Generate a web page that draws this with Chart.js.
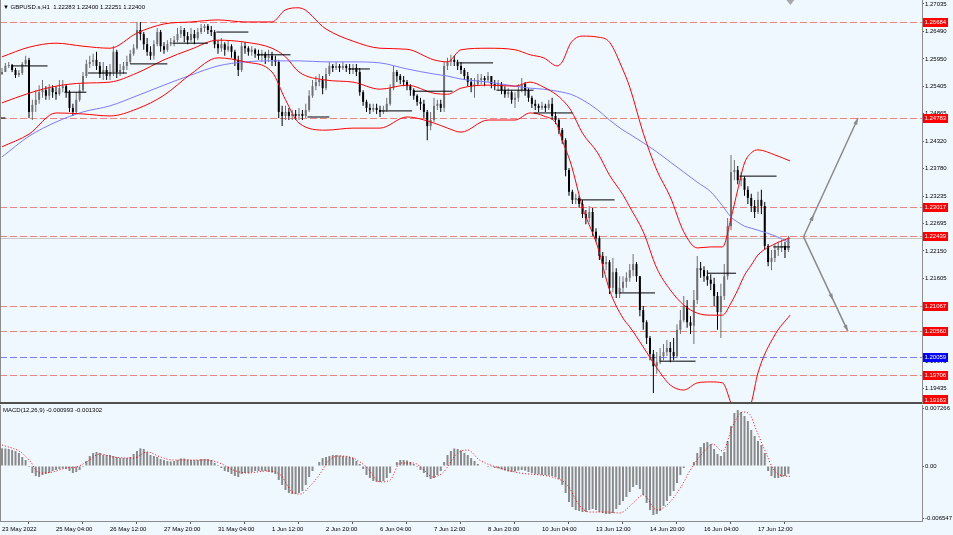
<!DOCTYPE html>
<html lang="en">
<head>
  <meta charset="UTF-8">
  <title>GBPUSD H1</title>
  <script src="https://cdn.jsdelivr.net/npm/chart.js"></script>
  <style>
    html, body { margin: 0; padding: 0; background: #f0f8ff; }
    #wrap { position: relative; width: 953px; height: 535px; overflow: hidden; background: #f0f8ff; }
    #mainChart { position: absolute; left: 0; top: 0; }
    #macdChart { position: absolute; left: 0; top: 405px; }
  </style>
</head>
<body>
  <div id="wrap">
    <canvas id="mainChart" width="953" height="404"></canvas>
    <canvas id="macdChart" width="953" height="130"></canvas>
  </div>

  <script>
    // 2-hour candles
    const opens = [1.2565,1.2569,1.2581,1.2583,1.2573,1.2563,1.2567,1.2585,1.2593,1.2490,
      1.2504,1.2514,1.2529,1.2533,1.2522,1.2537,1.2529,1.2525,1.2537,1.2541,
      1.2529,1.2498,1.2490,1.2514,1.2533,1.2561,1.2585,1.2589,1.2593,1.2581,
      1.2565,1.2573,1.2561,1.2569,1.2609,1.2569,1.2573,1.2581,1.2589,1.2605,
      1.2616,1.2652,1.2644,1.2624,1.2609,1.2601,1.2624,1.2648,1.2620,1.2613,
      1.2624,1.2628,1.2632,1.2644,1.2652,1.2640,1.2632,1.2644,1.2636,1.2648,
      1.2656,1.2660,1.2652,1.2648,1.2624,1.2616,1.2624,1.2613,1.2620,1.2609,
      1.2593,1.2573,1.2620,1.2616,1.2609,1.2613,1.2605,1.2601,1.2605,1.2597,
      1.2601,1.2593,1.2589,1.2490,1.2482,1.2490,1.2482,1.2486,1.2482,1.2486,
      1.2482,1.2494,1.2522,1.2541,1.2549,1.2553,1.2537,1.2565,1.2581,1.2577,
      1.2581,1.2577,1.2581,1.2577,1.2573,1.2577,1.2569,1.2529,1.2510,1.2498,
      1.2494,1.2498,1.2494,1.2490,1.2494,1.2506,1.2537,1.2569,1.2561,1.2553,
      1.2549,1.2541,1.2533,1.2522,1.2510,1.2506,1.2490,1.2462,1.2474,1.2502,
      1.2506,1.2498,1.2581,1.2589,1.2593,1.2589,1.2581,1.2573,1.2561,1.2549,
      1.2541,1.2545,1.2553,1.2557,1.2553,1.2561,1.2545,1.2541,1.2545,1.2533,
      1.2525,1.2529,1.2514,1.2518,1.2533,1.2545,1.2533,1.2518,1.2506,1.2502,
      1.2498,1.2502,1.2498,1.2506,1.2482,1.2474,1.2454,1.2434,1.2375,1.2332,
      1.2316,1.2320,1.2308,1.2288,1.2280,1.2292,1.2253,1.2240,1.2205,1.2189,
      1.2193,1.2142,1.2173,1.2130,1.2142,1.2154,1.2162,1.2177,1.2189,1.2165,
      1.2098,1.2074,1.2043,1.2011,1.1987,1.1995,1.2007,1.2015,1.2023,1.2015,
      1.2007,1.2059,1.2078,1.2106,1.2074,1.2067,1.2118,1.2181,1.2177,1.2165,
      1.2158,1.2150,1.2126,1.2094,1.2126,1.2165,1.2264,1.2371,1.2375,1.2355,
      1.2359,1.2336,1.2320,1.2304,1.2292,1.2316,1.2304,1.2225,1.2193,1.2201,
      1.2217,1.2221,1.2225,1.2217];
    const highs = [1.2577,1.2587,1.2589,1.2585,1.2577,1.2573,1.2589,1.2601,1.2597,1.2514,
      1.2533,1.2543,1.2553,1.2541,1.2545,1.2543,1.2541,1.2553,1.2553,1.2545,
      1.2533,1.2506,1.2529,1.2545,1.2569,1.2593,1.2601,1.2605,1.2609,1.2589,
      1.2589,1.2581,1.2585,1.2620,1.2613,1.2585,1.2589,1.2601,1.2613,1.2624,
      1.2668,1.2668,1.2648,1.2636,1.2620,1.2632,1.2656,1.2652,1.2628,1.2632,
      1.2636,1.2640,1.2656,1.2660,1.2656,1.2648,1.2656,1.2652,1.2656,1.2664,
      1.2664,1.2664,1.2660,1.2652,1.2632,1.2636,1.2628,1.2632,1.2624,1.2613,
      1.2601,1.2628,1.2628,1.2620,1.2620,1.2616,1.2613,1.2613,1.2609,1.2613,
      1.2609,1.2601,1.2593,1.2502,1.2502,1.2498,1.2494,1.2494,1.2498,1.2494,
      1.2506,1.2533,1.2553,1.2561,1.2565,1.2561,1.2577,1.2589,1.2585,1.2589,
      1.2585,1.2589,1.2585,1.2585,1.2585,1.2585,1.2577,1.2533,1.2514,1.2506,
      1.2506,1.2506,1.2502,1.2502,1.2518,1.2545,1.2581,1.2573,1.2565,1.2561,
      1.2553,1.2545,1.2537,1.2525,1.2518,1.2514,1.2494,1.2490,1.2518,1.2514,
      1.2514,1.2589,1.2597,1.2603,1.2601,1.2593,1.2589,1.2577,1.2569,1.2557,
      1.2557,1.2565,1.2565,1.2561,1.2569,1.2561,1.2553,1.2553,1.2549,1.2541,
      1.2537,1.2533,1.2529,1.2545,1.2557,1.2549,1.2537,1.2522,1.2514,1.2506,
      1.2510,1.2506,1.2514,1.2518,1.2490,1.2478,1.2458,1.2438,1.2379,1.2336,
      1.2328,1.2324,1.2316,1.2296,1.2304,1.2300,1.2260,1.2245,1.2213,1.2205,
      1.2197,1.2201,1.2181,1.2165,1.2165,1.2173,1.2189,1.2209,1.2193,1.2165,
      1.2106,1.2078,1.2047,1.2019,1.2015,1.2023,1.2031,1.2039,1.2035,1.2043,
      1.2070,1.2098,1.2126,1.2118,1.2086,1.2138,1.2205,1.2193,1.2185,1.2177,
      1.2169,1.2162,1.2134,1.2150,1.2189,1.2280,1.2405,1.2395,1.2383,1.2371,
      1.2363,1.2343,1.2328,1.2316,1.2332,1.2336,1.2312,1.2229,1.2217,1.2229,
      1.2233,1.2237,1.2233,1.2245];
    const lows = [1.2563,1.2569,1.2577,1.2569,1.2557,1.2559,1.2563,1.2581,1.2478,1.2474,
      1.2490,1.2506,1.2518,1.2514,1.2514,1.2518,1.2514,1.2522,1.2529,1.2518,
      1.2490,1.2482,1.2486,1.2510,1.2529,1.2557,1.2577,1.2581,1.2573,1.2557,
      1.2553,1.2553,1.2553,1.2561,1.2557,1.2561,1.2565,1.2573,1.2585,1.2601,
      1.2613,1.2632,1.2613,1.2601,1.2593,1.2593,1.2620,1.2609,1.2605,1.2609,
      1.2620,1.2620,1.2628,1.2636,1.2628,1.2624,1.2628,1.2624,1.2632,1.2644,
      1.2648,1.2644,1.2640,1.2616,1.2605,1.2609,1.2601,1.2609,1.2597,1.2581,
      1.2561,1.2569,1.2605,1.2601,1.2601,1.2597,1.2593,1.2589,1.2585,1.2589,
      1.2581,1.2581,1.2478,1.2462,1.2474,1.2474,1.2474,1.2474,1.2474,1.2474,
      1.2478,1.2490,1.2518,1.2533,1.2541,1.2525,1.2533,1.2561,1.2569,1.2573,
      1.2569,1.2573,1.2569,1.2565,1.2565,1.2561,1.2522,1.2502,1.2490,1.2486,
      1.2490,1.2486,1.2480,1.2486,1.2490,1.2502,1.2533,1.2549,1.2545,1.2541,
      1.2533,1.2522,1.2514,1.2502,1.2494,1.2478,1.2434,1.2454,1.2470,1.2494,
      1.2490,1.2490,1.2573,1.2581,1.2581,1.2573,1.2565,1.2553,1.2541,1.2529,
      1.2518,1.2541,1.2545,1.2541,1.2549,1.2537,1.2533,1.2533,1.2525,1.2518,
      1.2518,1.2506,1.2498,1.2510,1.2529,1.2522,1.2510,1.2498,1.2494,1.2490,
      1.2494,1.2490,1.2494,1.2474,1.2466,1.2446,1.2427,1.2363,1.2324,1.2308,
      1.2308,1.2300,1.2280,1.2268,1.2272,1.2245,1.2233,1.2197,1.2162,1.2177,
      1.2130,1.2134,1.2122,1.2122,1.2134,1.2142,1.2154,1.2165,1.2154,1.2086,
      1.2059,1.2031,1.1999,1.1934,1.1972,1.1991,1.1999,1.2007,1.1995,1.1999,
      1.2003,1.2051,1.2074,1.2063,1.2051,1.2031,1.2110,1.2162,1.2154,1.2146,
      1.2138,1.2106,1.2059,1.2043,1.2118,1.2158,1.2256,1.2355,1.2347,1.2343,
      1.2324,1.2308,1.2292,1.2280,1.2288,1.2288,1.2217,1.2185,1.2177,1.2193,
      1.2205,1.2213,1.2201,1.2213];
    const closes = [1.2569,1.2581,1.2583,1.2573,1.2563,1.2567,1.2585,1.2593,1.2490,1.2504,
      1.2514,1.2529,1.2533,1.2522,1.2537,1.2529,1.2525,1.2537,1.2541,1.2529,
      1.2498,1.2490,1.2514,1.2533,1.2561,1.2585,1.2589,1.2593,1.2581,1.2565,
      1.2573,1.2561,1.2569,1.2609,1.2569,1.2573,1.2581,1.2589,1.2605,1.2616,
      1.2652,1.2644,1.2624,1.2609,1.2601,1.2624,1.2648,1.2620,1.2613,1.2624,
      1.2628,1.2632,1.2644,1.2652,1.2640,1.2632,1.2644,1.2636,1.2648,1.2656,
      1.2660,1.2652,1.2648,1.2624,1.2616,1.2624,1.2613,1.2620,1.2609,1.2593,
      1.2573,1.2620,1.2616,1.2609,1.2613,1.2605,1.2601,1.2605,1.2597,1.2601,
      1.2593,1.2589,1.2490,1.2482,1.2490,1.2482,1.2486,1.2482,1.2486,1.2482,
      1.2494,1.2522,1.2541,1.2549,1.2553,1.2537,1.2565,1.2581,1.2577,1.2581,
      1.2577,1.2581,1.2577,1.2573,1.2577,1.2569,1.2529,1.2510,1.2498,1.2494,
      1.2498,1.2494,1.2490,1.2494,1.2506,1.2537,1.2569,1.2561,1.2553,1.2549,
      1.2541,1.2533,1.2522,1.2510,1.2506,1.2490,1.2462,1.2474,1.2502,1.2506,
      1.2498,1.2581,1.2589,1.2593,1.2589,1.2581,1.2573,1.2561,1.2549,1.2541,
      1.2545,1.2553,1.2557,1.2553,1.2561,1.2545,1.2541,1.2545,1.2533,1.2525,
      1.2529,1.2514,1.2518,1.2533,1.2545,1.2533,1.2518,1.2506,1.2502,1.2498,
      1.2502,1.2498,1.2506,1.2482,1.2474,1.2454,1.2434,1.2375,1.2332,1.2316,
      1.2320,1.2308,1.2288,1.2280,1.2292,1.2253,1.2240,1.2205,1.2189,1.2193,
      1.2142,1.2173,1.2130,1.2142,1.2154,1.2162,1.2177,1.2189,1.2165,1.2098,
      1.2074,1.2043,1.2011,1.1987,1.1995,1.2007,1.2015,1.2023,1.2015,1.2007,
      1.2059,1.2078,1.2106,1.2074,1.2067,1.2118,1.2181,1.2177,1.2165,1.2158,
      1.2150,1.2126,1.2094,1.2126,1.2165,1.2264,1.2371,1.2375,1.2355,1.2359,
      1.2336,1.2320,1.2304,1.2292,1.2316,1.2304,1.2225,1.2193,1.2201,1.2217,
      1.2221,1.2225,1.2217,1.2240];

    // MACD main (histogram), one value per candle
    const macdMain = [0.00222,0.00220,0.00214,0.00201,0.00188,0.00163,0.00113,0.00075,-0.00013,-0.00088,
      -0.00126,-0.00138,-0.00113,-0.00100,-0.00088,-0.00063,-0.00050,-0.00038,-0.00031,-0.00038,
      -0.00063,-0.00088,-0.00075,-0.00050,-0.00013,0.00063,0.00126,0.00163,0.00176,0.00163,
      0.00138,0.00138,0.00138,0.00126,0.00113,0.00100,0.00100,0.00100,0.00113,0.00151,
      0.00188,0.00222,0.00214,0.00176,0.00138,0.00126,0.00113,0.00088,0.00075,0.00063,
      0.00057,0.00063,0.00075,0.00094,0.00094,0.00082,0.00075,0.00075,0.00075,0.00088,
      0.00088,0.00088,0.00075,0.00038,0.00013,-0.00025,-0.00063,-0.00075,-0.00100,-0.00126,
      -0.00138,-0.00100,-0.00088,-0.00088,-0.00075,-0.00063,-0.00063,-0.00063,-0.00063,-0.00075,
      -0.00082,-0.00100,-0.00176,-0.00239,-0.00301,-0.00339,-0.00352,-0.00352,-0.00339,-0.00314,
      -0.00239,-0.00138,-0.00063,0.00000,0.00050,0.00100,0.00113,0.00126,0.00138,0.00138,
      0.00132,0.00126,0.00119,0.00113,0.00100,0.00063,0.00025,-0.00038,-0.00113,-0.00151,
      -0.00188,-0.00201,-0.00201,-0.00188,-0.00151,-0.00088,0.00000,0.00050,0.00075,0.00075,
      0.00069,0.00050,0.00025,-0.00013,-0.00050,-0.00088,-0.00138,-0.00163,-0.00151,-0.00113,
      -0.00063,0.00050,0.00138,0.00188,0.00220,0.00214,0.00195,0.00163,0.00138,0.00100,
      0.00063,0.00025,0.00000,-0.00006,-0.00013,-0.00013,-0.00025,-0.00031,-0.00044,-0.00057,
      -0.00069,-0.00075,-0.00069,-0.00057,-0.00050,-0.00057,-0.00075,-0.00088,-0.00100,-0.00107,
      -0.00113,-0.00113,-0.00119,-0.00126,-0.00138,-0.00163,-0.00239,-0.00339,-0.00452,-0.00515,
      -0.00553,-0.00565,-0.00578,-0.00578,-0.00553,-0.00540,-0.00553,-0.00578,-0.00590,-0.00603,
      -0.00603,-0.00590,-0.00540,-0.00490,-0.00440,-0.00389,-0.00327,-0.00264,-0.00239,-0.00289,
      -0.00364,-0.00465,-0.00553,-0.00615,-0.00603,-0.00565,-0.00502,-0.00440,-0.00377,-0.00314,
      -0.00214,-0.00113,-0.00025,0.00000,0.00006,0.00050,0.00163,0.00239,0.00289,0.00301,
      0.00276,0.00214,0.00151,0.00126,0.00176,0.00314,0.00502,0.00666,0.00703,0.00678,
      0.00628,0.00565,0.00452,0.00377,0.00314,0.00264,0.00163,-0.00063,-0.00126,-0.00151,
      -0.00151,-0.00138,-0.00126,-0.00099];

    // MACD signal line (red dotted), sampled
    const signalHours = [0,11,17,22,30,38,44,50,58,66,78,86,94,101,110,121,129,137,145,157,
      165,172,177,182,188,194,200,208,216,224,230,236,244,250,255,261,270,276,283,295,
      307,319,326,335,342,348,358,366,374,380,388,394,402,409,418,421,427,433,439,443,
      447,453,457,461,467];
    const macdSignal = [0.00264,0.00176,0.00050,-0.00088,-0.00075,-0.00025,-0.00013,0.00050,0.00151,0.00113,
      0.00100,0.00176,0.00113,0.00075,0.00075,0.00075,0.00038,-0.00050,-0.00088,-0.00063,
      -0.00113,-0.00327,-0.00352,-0.00264,-0.00113,0.00075,0.00126,0.00100,-0.00013,-0.00201,
      -0.00176,0.00038,0.00038,-0.00050,-0.00138,-0.00088,0.00163,0.00201,0.00075,-0.00025,
      -0.00088,-0.00113,-0.00138,-0.00239,-0.00490,-0.00578,-0.00578,-0.00590,-0.00465,-0.00364,
      -0.00553,-0.00490,-0.00276,-0.00013,0.00226,0.00276,0.00188,0.00502,0.00678,0.00653,
      0.00452,0.00151,-0.00038,-0.00113,-0.00130];

    // Bollinger bands and moving average, sampled along the curve
    const bandHours = [0,16,32,48,64,80,96,112,128,144,160,168,176,192,208,224,240,256,264,272,
      288,304,313,321,329,332,337,344,353,360,368,372,380,388,396,404,412,420,427,432,
      436,440,444,448,458,467];
    const upperBand = [1.2599,1.2618,1.2626,1.2620,1.2616,1.2646,1.2664,1.2668,1.2672,1.2668,
      1.2668,1.2692,1.2696,1.2654,1.2630,1.2616,1.2614,1.2593,1.2589,1.2613,
      1.2616,1.2613,1.2603,1.2597,1.2581,1.2589,1.2626,1.2640,1.2638,1.2628,
      1.2573,1.2539,1.2448,1.2375,1.2322,1.2253,1.2221,1.2223,1.2223,1.2280,
      1.2336,1.2389,1.2409,1.2415,1.2405,1.2393];
    const middleBand = [1.2508,1.2527,1.2541,1.2547,1.2549,1.2567,1.2593,1.2614,1.2632,1.2628,
      1.2616,1.2599,1.2569,1.2553,1.2549,1.2535,1.2543,1.2527,1.2525,1.2537,
      1.2543,1.2541,1.2549,1.2539,1.2523,1.2514,1.2494,1.2448,1.2409,1.2365,
      1.2326,1.2302,1.2253,1.2181,1.2138,1.2108,1.2092,1.2088,1.2088,1.2112,
      1.2138,1.2167,1.2187,1.2207,1.2229,1.2241];
    const lowerBand = [1.2421,1.2446,1.2488,1.2486,1.2482,1.2496,1.2523,1.2565,1.2597,1.2589,
      1.2569,1.2514,1.2468,1.2454,1.2458,1.2458,1.2480,1.2468,1.2458,1.2450,
      1.2474,1.2474,1.2488,1.2482,1.2464,1.2434,1.2389,1.2302,1.2223,1.2138,
      1.2082,1.2065,1.2025,1.1984,1.1950,1.1940,1.1954,1.1956,1.1954,1.1914,
      1.1881,1.1881,1.1914,1.1974,1.2049,1.2088];
    const maLine = [1.2401,1.2442,1.2470,1.2490,1.2502,1.2522,1.2543,1.2563,1.2581,1.2589,
      1.2591,1.2591,1.2591,1.2589,1.2589,1.2587,1.2575,1.2565,1.2561,1.2555,
      1.2549,1.2541,1.2537,1.2535,1.2531,1.2529,1.2525,1.2514,1.2494,1.2474,
      1.2454,1.2446,1.2429,1.2411,1.2391,1.2371,1.2351,1.2332,1.2304,1.2282,
      1.2272,1.2264,1.2260,1.2256,1.2245,1.2231];

    // short black horizontal segments
    const segStart = [-1,6,37,51,76,101,127,151,181,206,224,244,271,293,315,341,366,390,418,437,457];
    const segEnd   = [2,27,50,74,98,122,146,171,194,218,243,267,291,315,338,363,387,411,435,459,467];
    const segLevel = [1.2478,1.2581,1.2529,1.2567,1.2585,1.2626,1.2648,1.2603,1.2480,1.2575,1.2492,
      1.2531,1.2587,1.2533,1.2488,1.2316,1.2132,1.1997,1.2171,1.2363,1.2223];

    // horizontal levels with their axis tags
    const levels = [1.26684,1.24783,1.23017,1.22439,1.21067,1.20560,1.20059,1.19706,1.19163];
    const levelKinds = ['red','red','red','red','red','red','blue','red','red'];
    const bidPrice = 1.22400;

    // two drawn arrows from the same start
    const arrowBase = [475, 1.2243];
    const arrowTips = [[507.3, 1.2478], [501.3, 1.2056]];
    const arrowMarks = [0.19, 0.67];

    const priceTicks = [1.27035,1.26490,1.25950,1.25405,1.24865,1.24320,1.23780,1.23235,
      1.22695,1.22150,1.21605,1.21060,1.20520,1.19975,1.19435];
    const priceTickLabels = ['1.27035','1.26490','1.25950','1.25405','1.24865','1.24320','1.23780','1.23235',
      '1.22695','1.22150','1.21605','1.21060','1.20520','1.19975','1.19435'];
    const macdTicks = [0.007266, 0, -0.006547];
    const macdTickLabels = ['0.007266', '0.00', '-0.006547'];
    const timeLabelHours = [0,32,64,96,128,160,192,224,256,288,320,352,384,416,448];
    const timeLabels = ['23 May 2022','25 May 04:00','26 May 12:00','27 May 20:00','31 May 04:00',
      '1 Jun 12:00','2 Jun 20:00','6 Jun 04:00','7 Jun 12:00','8 Jun 20:00','10 Jun 04:00',
      '13 Jun 12:00','14 Jun 20:00','16 Jun 04:00','17 Jun 12:00'];

    const barHours = closes.map((_, i) => i * 2);
    const X_MIN = -1.185, X_MAX = 545.19;
    const FONT = "'Liberation Sans', Arial, sans-serif";
    const FS = 6;
    Chart.defaults.font.family = FONT;

    const candleColor = c => closes[c.dataIndex] >= opens[c.dataIndex] ? '#707070' : '#000000';
    const fixRightAxis = s => { s.width = 31; s.paddingTop = 0; s.paddingBottom = 0; };

    function pts(xs, ys) {
      return xs.map((x, i) => ({ x: x, y: ys[i] }));
    }

    function segmentPoints() {
      const out = [];
      segStart.forEach((s, i) => {
        out.push({ x: s, y: segLevel[i] }, { x: segEnd[i], y: segLevel[i] }, { x: segEnd[i], y: null });
      });
      return out;
    }

    function drawHead(ctx, ang, px, py) {
      ctx.beginPath();
      ctx.moveTo(px, py);
      ctx.lineTo(px - 7 * Math.cos(ang - 0.3), py - 7 * Math.sin(ang - 0.3));
      ctx.lineTo(px - 7 * Math.cos(ang + 0.3), py - 7 * Math.sin(ang + 0.3));
      ctx.closePath();
      ctx.fill();
    }

    const mainDecor = {
      id: 'mainDecor',
      beforeDatasetsDraw(chart) {
        const { ctx, chartArea: a, scales: { y } } = chart;
        ctx.save();
        ctx.lineWidth = 1;
        const by = Math.round(y.getPixelForValue(bidPrice)) + 0.5;
        ctx.strokeStyle = '#c8c8c8';
        ctx.beginPath(); ctx.moveTo(a.left, by); ctx.lineTo(a.right, by); ctx.stroke();
        ctx.setLineDash([7, 3]);
        levels.forEach((lv, i) => {
          const py = Math.round(y.getPixelForValue(lv)) + 0.5;
          ctx.strokeStyle = levelKinds[i] === 'blue' ? '#7a7af2' : '#f08282';
          ctx.beginPath(); ctx.moveTo(a.left, py); ctx.lineTo(a.right, py); ctx.stroke();
        });
        ctx.restore();
      },
      afterDraw(chart) {
        const { ctx, chartArea: a, scales: { x, y } } = chart;
        ctx.save();
        // arrows
        ctx.strokeStyle = '#8a8a8a';
        ctx.fillStyle = '#8a8a8a';
        ctx.lineWidth = 1.5;
        const x0 = x.getPixelForValue(arrowBase[0]), y0 = y.getPixelForValue(arrowBase[1]);
        arrowTips.forEach((t, i) => {
          const x1 = x.getPixelForValue(t[0]), y1 = y.getPixelForValue(t[1]);
          ctx.beginPath(); ctx.moveTo(x0, y0); ctx.lineTo(x1, y1); ctx.stroke();
          const ang = Math.atan2(y1 - y0, x1 - x0);
          drawHead(ctx, ang, x1, y1);
          drawHead(ctx, ang, x0 + (x1 - x0) * arrowMarks[i], y0 + (y1 - y0) * arrowMarks[i]);
        });
        // shift marker at the top
        const sx = x.getPixelForValue(barHours[barHours.length - 1]) + 2;
        ctx.fillStyle = '#a8a8a8';
        ctx.beginPath(); ctx.moveTo(sx - 4, 0); ctx.lineTo(sx + 4, 0); ctx.lineTo(sx, 5); ctx.closePath(); ctx.fill();
        // frame
        ctx.lineWidth = 1;
        ctx.strokeStyle = '#8c8c8c';
        ctx.beginPath();
        ctx.moveTo(a.left + 0.5, a.top); ctx.lineTo(a.left + 0.5, a.bottom);
        ctx.moveTo(a.right + 0.5, a.top); ctx.lineTo(a.right + 0.5, a.bottom);
        ctx.stroke();
        ctx.strokeStyle = '#505050';
        ctx.lineWidth = 2;
        ctx.beginPath(); ctx.moveTo(a.left, a.bottom - 1); ctx.lineTo(a.right, a.bottom - 1); ctx.stroke();
        // level tags on the price axis
        ctx.font = FS + 'px ' + FONT;
        ctx.textBaseline = 'middle';
        ctx.textAlign = 'left';
        levels.forEach((lv, i) => {
          const py = Math.round(y.getPixelForValue(lv));
          ctx.fillStyle = levelKinds[i] === 'blue' ? '#0000ff' : '#ff0000';
          ctx.fillRect(a.right + 1, Math.min(py - 4, a.bottom - 9), 25, 9);
          ctx.fillStyle = '#ffffff';
          ctx.fillText(lv.toFixed(5), a.right + 2.5, Math.min(py + 0.5, a.bottom - 4));
        });
        // symbol caption
        ctx.fillStyle = '#000000';
        ctx.font = FS + 'px ' + FONT;
        ctx.fillText('\u25BC GBPUSD.s,H1  1.22283 1.22400 1.22251 1.22400', 3, 7);
        ctx.restore();
      }
    };

    const macdDecor = {
      id: 'macdDecor',
      afterDraw(chart) {
        const { ctx, chartArea: a } = chart;
        ctx.save();
        ctx.lineWidth = 1;
        ctx.strokeStyle = '#8c8c8c';
        ctx.beginPath();
        ctx.moveTo(a.left + 0.5, a.top); ctx.lineTo(a.left + 0.5, a.bottom);
        ctx.moveTo(a.right + 0.5, a.top); ctx.lineTo(a.right + 0.5, a.bottom);
        ctx.moveTo(a.left, a.bottom + 0.5); ctx.lineTo(a.right + 1, a.bottom + 0.5);
        ctx.stroke();
        ctx.fillStyle = '#000000';
        ctx.font = FS + 'px ' + FONT;
        ctx.textBaseline = 'middle';
        ctx.fillText('MACD(12,26,9) -0.000993 -0.001302', 3, 5);
        ctx.restore();
      }
    };

    new Chart(document.getElementById('mainChart'), {
      type: 'bar',
      data: {
        datasets: [
          {
            type: 'line', data: segmentPoints(), borderColor: '#000000', borderWidth: 1,
            pointRadius: 0, spanGaps: false, order: 0
          },
          {
            type: 'line', data: pts(bandHours, upperBand), borderColor: '#ff0000', borderWidth: 1,
            pointRadius: 0, cubicInterpolationMode: 'monotone', order: 1
          },
          {
            type: 'line', data: pts(bandHours, middleBand), borderColor: '#ff0000', borderWidth: 1,
            pointRadius: 0, cubicInterpolationMode: 'monotone', order: 1
          },
          {
            type: 'line', data: pts(bandHours, lowerBand), borderColor: '#ff0000', borderWidth: 1,
            pointRadius: 0, cubicInterpolationMode: 'monotone', order: 1
          },
          {
            type: 'line', data: pts(bandHours, maLine), borderColor: '#7a7aff', borderWidth: 1,
            pointRadius: 0, cubicInterpolationMode: 'monotone', order: 1
          },
          {
            type: 'bar', data: opens.map((o, i) => ({ x: barHours[i], y: [o, closes[i]] })),
            backgroundColor: candleColor, barThickness: 2, minBarLength: 1,
            grouped: false, inflateAmount: 0, order: 2
          },
          {
            type: 'bar', data: lows.map((l, i) => ({ x: barHours[i], y: [l, highs[i]] })),
            backgroundColor: candleColor, barThickness: 1,
            grouped: false, inflateAmount: 0, order: 3
          }
        ]
      },
      options: {
        responsive: false,
        animation: false,
        events: [],
        layout: { padding: 0 },
        plugins: { legend: { display: false }, tooltip: { enabled: false } },
        scales: {
          x: { type: 'linear', display: false, min: X_MIN, max: X_MAX, offset: false },
          y: {
            type: 'linear', position: 'right', min: 1.19123, max: 1.27114, beginAtZero: false,
            afterFit: fixRightAxis,
            afterBuildTicks: s => { s.ticks = priceTicks.map(v => ({ value: v })); },
            ticks: {
              autoSkip: false, padding: 1, color: '#000000', font: { size: FS },
              callback: (v, i) => priceTickLabels[i]
            },
            grid: { display: true, drawOnChartArea: false, drawTicks: true, tickLength: 2, color: '#555555' },
            border: { display: false }
          }
        }
      },
      plugins: [mainDecor]
    });

    new Chart(document.getElementById('macdChart'), {
      type: 'bar',
      data: {
        datasets: [
          {
            type: 'line', data: pts(signalHours, macdSignal), borderColor: '#ff0000', borderWidth: 1,
            borderDash: [1, 2], pointRadius: 0, cubicInterpolationMode: 'monotone', order: 0
          },
          {
            type: 'bar', data: macdMain.map((v, i) => ({ x: barHours[i], y: v })),
            backgroundColor: '#8a8a8a', barThickness: 2, grouped: false, inflateAmount: 0, order: 1
          }
        ]
      },
      options: {
        responsive: false,
        animation: false,
        events: [],
        layout: { padding: 0 },
        plugins: { legend: { display: false }, tooltip: { enabled: false } },
        scales: {
          x: {
            type: 'linear', position: 'bottom', min: X_MIN, max: X_MAX, offset: false,
            afterFit: s => { s.height = 14; s.paddingLeft = 0; s.paddingRight = 0; },
            afterBuildTicks: s => { s.ticks = timeLabelHours.map(v => ({ value: v })); },
            ticks: {
              autoSkip: false, maxRotation: 0, minRotation: 0, align: 'start', padding: 2,
              color: '#000000', font: { size: FS }, callback: (v, i) => timeLabels[i]
            },
            grid: { display: true, drawOnChartArea: false, drawTicks: true, tickLength: 3, color: '#555555' },
            border: { display: false }
          },
          y: {
            type: 'linear', position: 'right', min: -0.006908, max: 0.007662, beginAtZero: false,
            afterFit: fixRightAxis,
            afterBuildTicks: s => { s.ticks = macdTicks.map(v => ({ value: v })); },
            ticks: {
              autoSkip: false, padding: 1, color: '#000000', font: { size: FS },
              callback: (v, i) => macdTickLabels[i]
            },
            grid: { display: true, drawOnChartArea: false, drawTicks: true, tickLength: 2, color: '#555555' },
            border: { display: false }
          }
        }
      },
      plugins: [macdDecor]
    });
  </script>
</body>
</html>
